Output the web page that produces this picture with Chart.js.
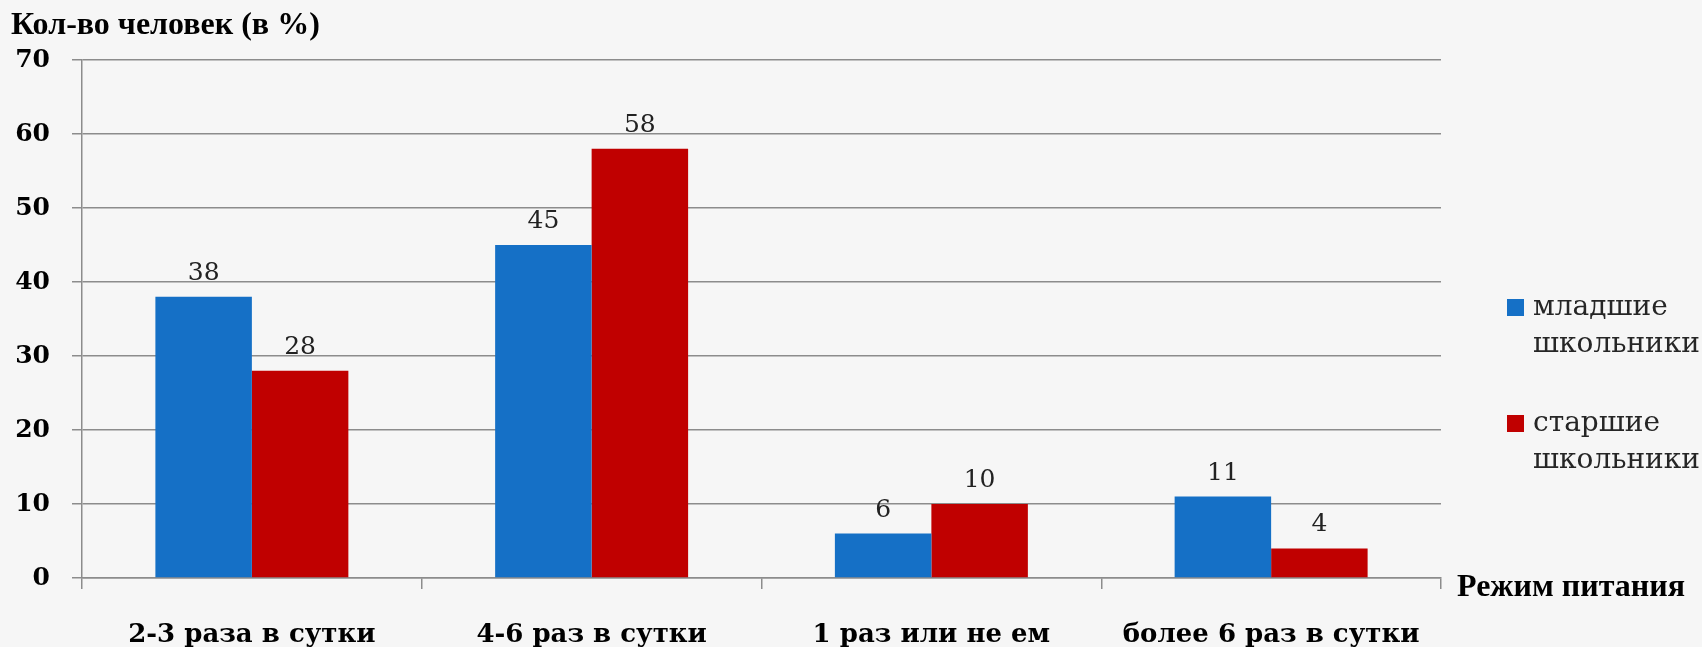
<!DOCTYPE html>
<html lang="ru">
<head>
<meta charset="utf-8">
<title>Режим питания</title>
<script src="https://cdn.jsdelivr.net/npm/chart.js@4.4.1/dist/chart.umd.min.js"></script>
<style>
  html, body { margin: 0; padding: 0; background: #f6f6f6; }
  #wrap { position: relative; width: 1702px; height: 647px; }
</style>
</head>
<body>
<div id="wrap"><canvas id="chart" width="1702" height="647"></canvas></div>
<script>
// ─── Данные ───
const categories = ['2-3 раза в сутки', '4-6 раз в сутки', '1 раз или не ем', 'более 6 раз в сутки'];
const juniorValues = [38, 45, 6, 11];
const seniorValues = [28, 58, 10, 4];
const seriesNames = [['младшие', 'школьники'], ['старшие', 'школьники']];
const yTicks = [0, 10, 20, 30, 40, 50, 60, 70];
const yTitle = 'Кол-во человек (в %)';
const xTitle = 'Режим питания';

const BLUE = '#1570c6';
const RED = '#c00000';
const GRID = '#8c8c8c';

// ─── Подписи значений над столбцами ───
const valueLabels = {
  id: 'valueLabels',
  afterDatasetsDraw(chart) {
    const ctx = chart.ctx;
    ctx.save();
    ctx.font = '25px "DejaVu Serif"';
    ctx.fillStyle = '#222';
    ctx.textAlign = 'center';
    ctx.textBaseline = 'bottom';
    chart.data.datasets.forEach((ds, i) => {
      chart.getDatasetMeta(i).data.forEach((bar, j) => {
        ctx.fillText(String(ds.data[j]), bar.x, bar.y - 11);
      });
    });
    ctx.restore();
  }
};

// ─── Заголовки осей и легенда ───
const extras = {
  id: 'extras',
  afterDraw(chart) {
    const ctx = chart.ctx;
    ctx.save();
    ctx.fillStyle = '#000';
    ctx.font = 'bold 32px "Liberation Serif"';
    ctx.textBaseline = 'middle';
    ctx.textAlign = 'left';
    ctx.fillText(yTitle, 11, 26);
    ctx.fillText(xTitle, 1457, 588);

    // легенда
    const colors = [BLUE, RED];
    const tops = [299, 415];
    ctx.font = '28px "DejaVu Serif"';
    seriesNames.forEach((lines, i) => {
      ctx.fillStyle = colors[i];
      ctx.fillRect(1507, tops[i], 17, 17);
      ctx.fillStyle = '#262626';
      lines.forEach((t, k) => {
        ctx.fillText(t, 1533, tops[i] + 9 + k * 37);
      });
    });
    ctx.restore();
  }
};

new Chart(document.getElementById('chart'), {
  type: 'bar',
  data: {
    labels: categories,
    datasets: [
      { label: seriesNames[0].join(' '), data: juniorValues, backgroundColor: BLUE, borderWidth: 0 },
      { label: seriesNames[1].join(' '), data: seniorValues, backgroundColor: RED, borderWidth: 0 }
    ]
  },
  options: {
    responsive: false,
    animation: false,
    devicePixelRatio: 1,
    layout: { padding: { top: 60, right: 261, left: 0, bottom: 0 } },
    categoryPercentage: 0.568,
    barPercentage: 1,
    plugins: {
      legend: { display: false },
      tooltip: { enabled: false }
    },
    scales: {
      x: {
        grid: {
          offset: true,
          drawOnChartArea: false,
          drawTicks: true,
          tickLength: 11,
          color: GRID,
          lineWidth: 1.5
        },
        border: { color: GRID, width: 1.5 },
        ticks: {
          color: '#000',
          padding: 31,
          font: { family: 'DejaVu Serif', size: 26, weight: 'bold' }
        },
        afterFit(scale) { scale.height = 69; }
      },
      y: {
        min: 0,
        max: 70,
        afterBuildTicks(scale) { scale.ticks = yTicks.map(v => ({ value: v })); },
        grid: { color: GRID, tickLength: 10, lineWidth: 1.5 },
        border: { color: GRID, width: 1.5 },
        ticks: {
          color: '#000',
          padding: 22,
          font: { family: 'DejaVu Serif', size: 25, weight: 'bold' }
        },
        afterFit(scale) { scale.width = 82; }
      }
    }
  },
  plugins: [valueLabels, extras]
});
</script>
</body>
</html>
